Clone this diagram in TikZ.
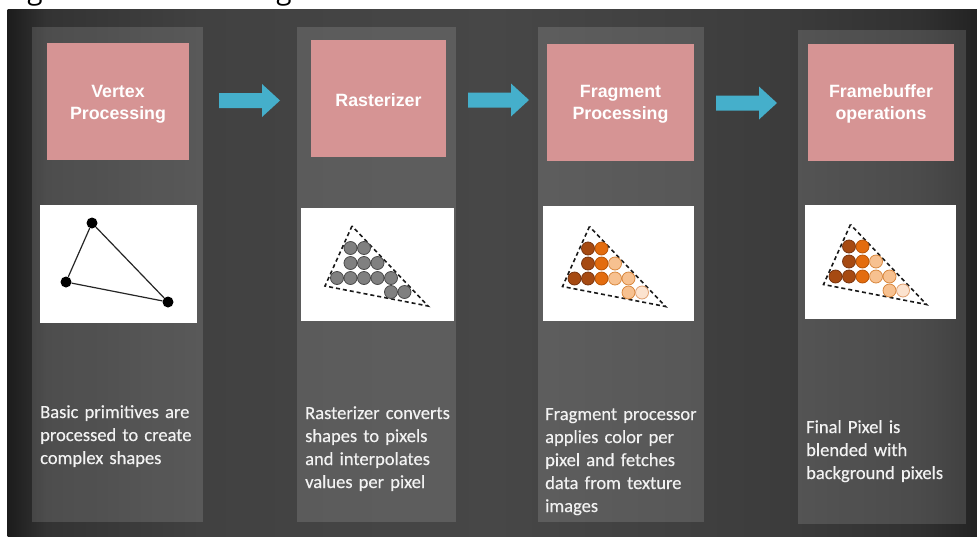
\documentclass[tikz,border=0pt]{standalone}
\usepackage{fontspec}
\setmainfont{Carlito}
\newfontfamily\descfont[FakeBold=0.35]{Carlito}
\newfontfamily\headfont{Liberation Sans}
\newfontfamily\capfont{Open Sans}
\usetikzlibrary{calc}

\definecolor{bgA}{HTML}{1C1C1C}
\definecolor{bgB}{HTML}{333333}
\definecolor{bgC}{HTML}{414141}
\definecolor{bgD}{HTML}{474747}
\definecolor{bgE}{HTML}{3C3C3C}
\definecolor{bgF}{HTML}{313131}
\definecolor{bgG}{HTML}{232323}
\definecolor{stagepink}{HTML}{D69494}
\definecolor{arrowteal}{HTML}{45AFCB}
\definecolor{pxG}{HTML}{808080}
\definecolor{pxGb}{HTML}{4A4A4A}
\definecolor{pxD}{HTML}{A64A12}
\definecolor{pxDb}{HTML}{7A3510}
\definecolor{pxO}{HTML}{E36C0E}
\definecolor{pxOb}{HTML}{B85509}
\definecolor{pxP}{HTML}{F7C190}
\definecolor{pxPb}{HTML}{D9883F}
\definecolor{pxL}{HTML}{FCE3CF}
\definecolor{pxLb}{HTML}{E0A070}
\definecolor{desctext}{HTML}{F2F2F2}

\pgfdeclarehorizontalshading{bgshade}{100bp}{color(0bp)=(bgA); color(25bp)=(bgA); color(27bp)=(bgB); color(35bp)=(bgC); color(50bp)=(bgD); color(65bp)=(bgE); color(72bp)=(bgF); color(75bp)=(bgG); color(100bp)=(bgG)}

\newcommand\blockarrow[2]{%
  \fill[arrowteal] ($(#1)+(0,-7.5)$) -- ($(#2)+(-18,-7.5)$) -- ($(#2)+(-18,-16.5)$)
    -- (#2) -- ($(#2)+(-18,16.5)$) -- ($(#2)+(-18,7.5)$) -- ($(#1)+(0,7.5)$) -- cycle;}

\begin{document}
\begin{tikzpicture}[x=1pt,y=-1pt,
  panel/.style={fill=white,fill opacity=0.13},
  stagebox/.style={fill=stagepink,inner sep=0pt,minimum height=117pt},
  stagelbl/.style={text=white,align=center,inner sep=0pt,
    font=\headfont\bfseries\fontsize{17.8}{22}\selectfont},
  imgframe/.style={fill=white,inner sep=0pt},
  vdot/.style={circle,fill=black,inner sep=0pt,minimum size=11pt},
  edge/.style={draw=black!85,line width=1.2pt},
  dtri/.style={draw=black!90,line width=1.6pt,dash pattern=on 4pt off 3pt},
  pix/.style={circle,inner sep=0pt,minimum size=13pt,line width=0.8pt},
  desc/.style={anchor=base west,text width=175pt,align=left,inner sep=0pt,
    text=desctext,font=\descfont\fontsize{18.5}{23}\selectfont},
  capg/.style={anchor=base,inner sep=0pt,font=\capfont\fontsize{28}{28}\selectfont}]

\useasboundingbox (0,0) rectangle (977,536);
\fill[white] (0,0) rectangle (977,536);

% cut-off heading above the slide
\begin{scope}
  \clip (0,0) rectangle (977,9.6);
  \node[capg] (hg1) at (35,-1) {g};
  \node[capg] (hg2) at (284,-1) {g};
\end{scope}

% slide background
\shade[shading=bgshade] (7.5,9.6) rectangle (977,536);

% column panels
\path[panel] (32,27) rectangle (203,522);
\path[panel] (297,27) rectangle (456,522);
\path[panel] (538,27) rectangle (704,522);
\path[panel] (798,30) rectangle (966,524);

% stage boxes
\node[stagebox,minimum width=142pt] (s1) at (118,101.5) {};
\node[stagebox,minimum width=135pt] (s2) at (378.5,98.5) {};
\node[stagebox,minimum width=147pt] (s3) at (620.5,102.5) {};
\node[stagebox,minimum width=146pt] (s4) at (881,102.5) {};
\node[stagelbl] (t1) at ($(s1)+(0,3)$) {Vertex\\Processing};
\node[stagelbl] (t2) at ($(s2)+(0,2)$) {Rasterizer};
\node[stagelbl] (t3) at ($(s3)+(0,1.5)$) {Fragment\\Processing};
\node[stagelbl] (t4) at ($(s4)+(0,1.5)$) {Framebuffer\\operations};

% block arrows
\coordinate (a1s) at (219,100.5); \coordinate (a1t) at (280,100.5);
\coordinate (a2s) at (468,100);   \coordinate (a2t) at (529,100);
\coordinate (a3s) at (716,103);   \coordinate (a3t) at (777,103);
\blockarrow{a1s}{a1t}
\blockarrow{a2s}{a2t}
\blockarrow{a3s}{a3t}

% image frames
\node[imgframe,minimum width=157pt,minimum height=118pt] (img1) at (118.5,264) {};
\node[imgframe,minimum width=153pt,minimum height=113pt] (img2) at (377.5,264.5) {};
\node[imgframe,minimum width=151pt,minimum height=115pt] (img3) at (618.5,263.5) {};
\node[imgframe,minimum width=151pt,minimum height=114pt] (img4) at (880.5,262) {};

% image 1: triangle with vertices
\node[vdot] (v1) at (92,223) {};
\node[vdot] (v2) at (66,282) {};
\node[vdot] (v3) at (168,302) {};
\draw[edge] (v1) -- (v2);
\draw[edge] (v2) -- (v3);
\draw[edge] (v3) -- (v1);

% image 2: rasterized (gray)
\draw[dtri] (352,226) -- (325,286) -- (428,306) -- cycle;
\foreach \k/\yy in {1/248,2/248,1/263,2/263,3/263,0/278,1/278,2/278,3/278,4/278,4/292,5/292}
  \node[pix,fill=pxG,draw=pxGb] at ({337+13.5*\k},\yy) {};

% image 3: fragment colours
\begin{scope}[shift={(237.5,0.5)}]
  \draw[dtri] (352,226) -- (325,286) -- (428,306) -- cycle;
  \foreach \k/\yy/\cc in {1/248/D,2/248/O,1/263/D,2/263/O,3/263/P,0/278/D,1/278/D,2/278/O,3/278/P,4/278/P,4/292/P,5/292/L}
    \node[pix,fill=px\cc,draw=px\cc b] at ({337+13.5*\k},\yy) {};
\end{scope}

% image 4: framebuffer
\begin{scope}[shift={(498.5,-1.5)}]
  \draw[dtri] (352,226) -- (325,286) -- (428,306) -- cycle;
  \foreach \k/\yy/\cc in {1/248/D,2/248/O,1/263/D,2/263/O,3/263/P,0/278/D,1/278/D,2/278/O,3/278/P,4/278/P,4/292/P,5/292/L}
    \node[pix,fill=px\cc,draw=px\cc b] at ({337+13.5*\k},\yy) {};
\end{scope}

% descriptions
\node[desc] (d1) at (40,418) {Basic primitives are\\processed to create\\complex shapes};
\node[desc] (d2) at (305,419) {Rasterizer converts\\shapes to pixels\\and interpolates\\values per pixel};
\node[desc] (d3) at (545,420) {Fragment processor\\applies color per\\pixel and fetches\\data from texture\\images};
\node[desc] (d4) at (806,433) {Final Pixel is\\blended with\\background pixels};
\end{tikzpicture}
\end{document}
